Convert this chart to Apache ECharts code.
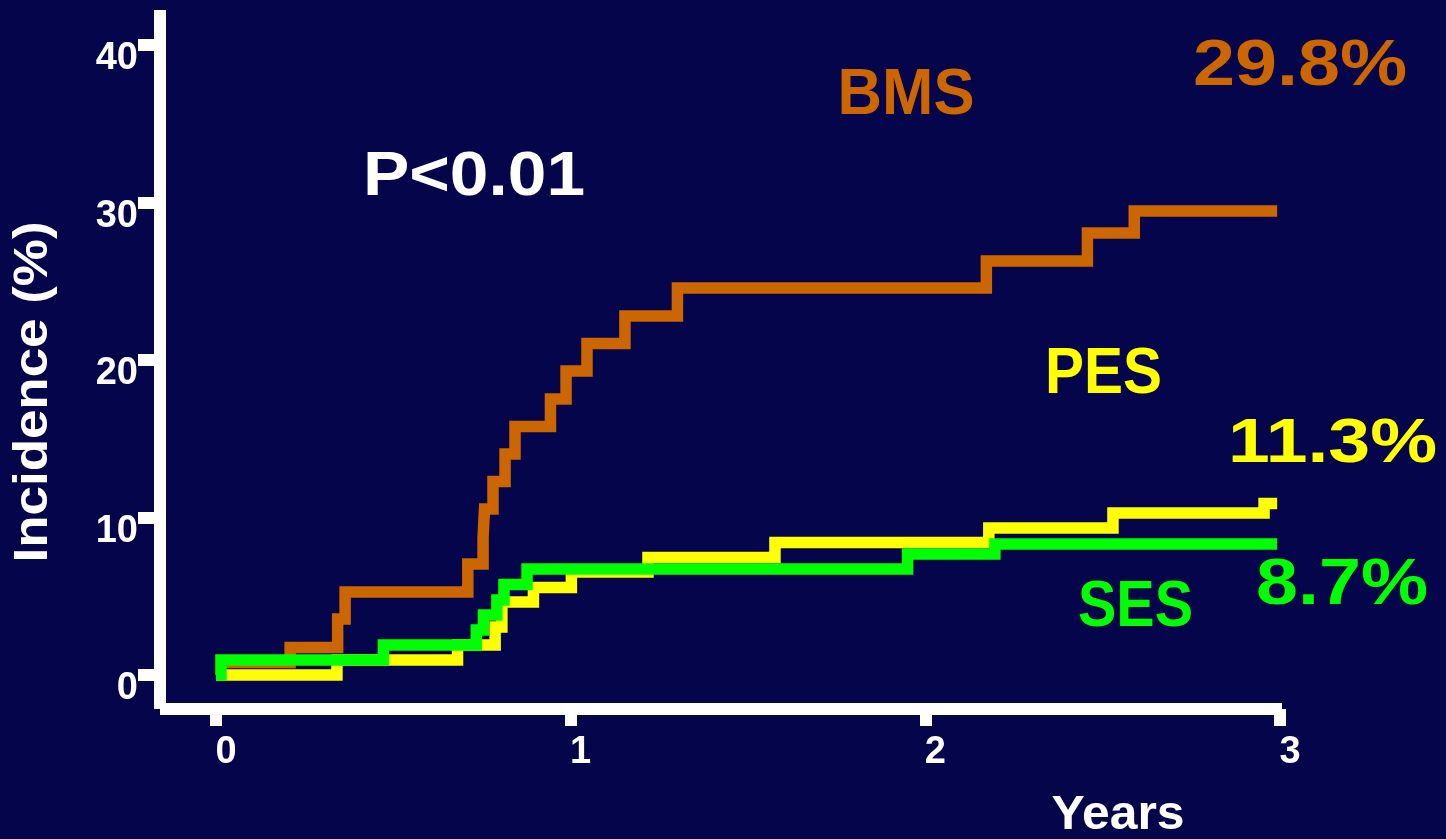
<!DOCTYPE html>
<html>
<head>
<meta charset="utf-8">
<script src="https://cdn.jsdelivr.net/npm/echarts@6/dist/echarts.min.js"></script>
<style>
html,body{margin:0;padding:0;background:#05054B;}
#chart{width:1446px;height:839px;}
</style>
</head>
<body>
<div id="chart"></div>
<script>
// ---- data ----
const xTicks = [0, 1, 2, 3];
const yTicks = [0, 10, 20, 30, 40];

const bmsT = [0, 0.209, 0.343, 0.364, 0.710, 0.753, 0.757, 0.781, 0.815, 0.843, 0.943, 0.987, 1.046, 1.153, 1.301, 2.172, 2.457, 2.589, 2.992];
const bmsV = [0.8, 1.75, 3.56, 5.27, 7.05, 8.76, 10.54, 12.29, 14.03, 15.78, 17.52, 19.30, 21.05, 22.79, 24.57, 26.29, 28.06, 29.46, 29.46];

const pesT = [0, 0.341, 0.681, 0.787, 0.806, 0.895, 1.002, 1.218, 1.576, 2.179, 2.529, 2.955, 2.992];
const pesV = [0, 0.95, 1.9, 3.05, 4.63, 5.56, 6.54, 7.46, 8.41, 9.33, 10.29, 10.89, 10.89];

const sesT = [0, 0.014, 0.472, 0.734, 0.754, 0.792, 0.812, 0.877, 1.950, 2.196, 2.992];
const sesV = [0, 0.95, 1.9, 2.86, 3.81, 4.76, 5.75, 6.73, 7.68, 8.32, 8.32];

const annoTexts = ['BMS', '29.8%', 'P<0.01', 'PES', '11.3%', 'SES', '8.7%'];
const yTitle = 'Incidence (%)';
const xTitle = 'Years';

// ---- layout / styles ----
const FONT = '"Liberation Sans", Arial, sans-serif';
const C_BMS = '#CC6600', C_PES = '#FFFF00', C_SES = '#00FF00';
const measureCtx = document.createElement('canvas').getContext('2d');
function fitScale(txt, size, w) {
  measureCtx.font = 'bold ' + size + 'px ' + FONT;
  return w / measureCtx.measureText(txt).width;
}
// [text index, centerX, centerY, width, fontSize, color]
const annoLayout = [
  [0, 906, 96, 137, 64, C_BMS],
  [1, 1300, 67, 214, 64, C_BMS],
  [2, 474, 177.5, 222, 63, '#FFFFFF'],
  [3, 1103.5, 375, 117, 64, C_PES],
  [4, 1332.5, 444.5, 209, 63, C_PES],
  [5, 1135.5, 608.5, 115, 64, C_SES],
  [6, 1342, 586, 172, 64, C_SES]
];

const graphics = annoLayout.map(a => {
  const txt = annoTexts[a[0]];
  return {
    type: 'text', x: a[1], y: a[2], scaleX: fitScale(txt, a[4], a[3]), z: 100,
    style: { text: txt, fill: a[5], font: 'bold ' + a[4] + 'px ' + FONT, align: 'center', verticalAlign: 'middle' }
  };
});
graphics.push({
  type: 'text', x: 33, y: 392, rotation: Math.PI / 2, scaleX: fitScale(yTitle, 49, 341), z: 100,
  style: { text: yTitle, fill: '#FFFFFF', font: 'bold 49px ' + FONT, align: 'center', verticalAlign: 'middle',
           textShadowColor: '#000000', textShadowBlur: 0, textShadowOffsetX: 2, textShadowOffsetY: 2 }
});
graphics.push({
  type: 'text', x: 1118, y: 815.5, scaleX: fitScale(xTitle, 49, 133), z: 100,
  style: { text: xTitle, fill: '#FFFFFF', font: 'bold 49px ' + FONT, align: 'center', verticalAlign: 'middle',
           textShadowColor: '#000000', textShadowBlur: 0, textShadowOffsetX: 2, textShadowOffsetY: 2 }
});

function pairs(T, V) { return T.map((t, i) => [t, V[i]]); }
function stepSeries(name, T, V, color) {
  return {
    name: name, type: 'line', step: 'end', data: pairs(T, V),
    showSymbol: false, symbol: 'none', silent: true, animation: false,
    lineStyle: { color: color, width: 11.5, join: 'miter', cap: 'butt' }
  };
}

const chart = echarts.init(document.getElementById('chart'), null, { renderer: 'canvas' });
chart.setOption({
  backgroundColor: '#05054B',
  animation: false,
  grid: { left: 160, top: 10, width: 1122, height: 699, containLabel: false },
  xAxis: {
    type: 'value', min: -0.1579, max: 3.0056,
    axisLine: { show: true, onZero: false, lineStyle: { color: '#FFFFFF', width: 12, cap: 'butt' } },
    axisTick: { show: true, customValues: xTicks, length: 17, lineStyle: { color: '#FFFFFF', width: 12 } },
    axisLabel: { customValues: xTicks, color: '#FFFFFF', fontFamily: FONT, fontWeight: 'bold', fontSize: 38, margin: 25, padding: [0, 0, 0, 20] },
    splitLine: { show: false }
  },
  yAxis: {
    type: 'value', min: -2.159, max: 42.222,
    axisLine: { show: true, onZero: false, lineStyle: { color: '#FFFFFF', width: 12, cap: 'butt' } },
    axisTick: { show: true, customValues: yTicks, length: 22, lineStyle: { color: '#FFFFFF', width: 12 } },
    axisLabel: { customValues: yTicks, color: '#FFFFFF', fontFamily: FONT, fontWeight: 'bold', fontSize: 38, margin: 22,
                 verticalAlign: 'top', lineHeight: 28 },
    splitLine: { show: false }
  },
  series: [
    stepSeries('BMS', bmsT, bmsV, C_BMS),
    stepSeries('PES', pesT, pesV, C_PES),
    stepSeries('SES', sesT, sesV, C_SES)
  ],
  graphic: graphics
});
</script>
</body>
</html>
